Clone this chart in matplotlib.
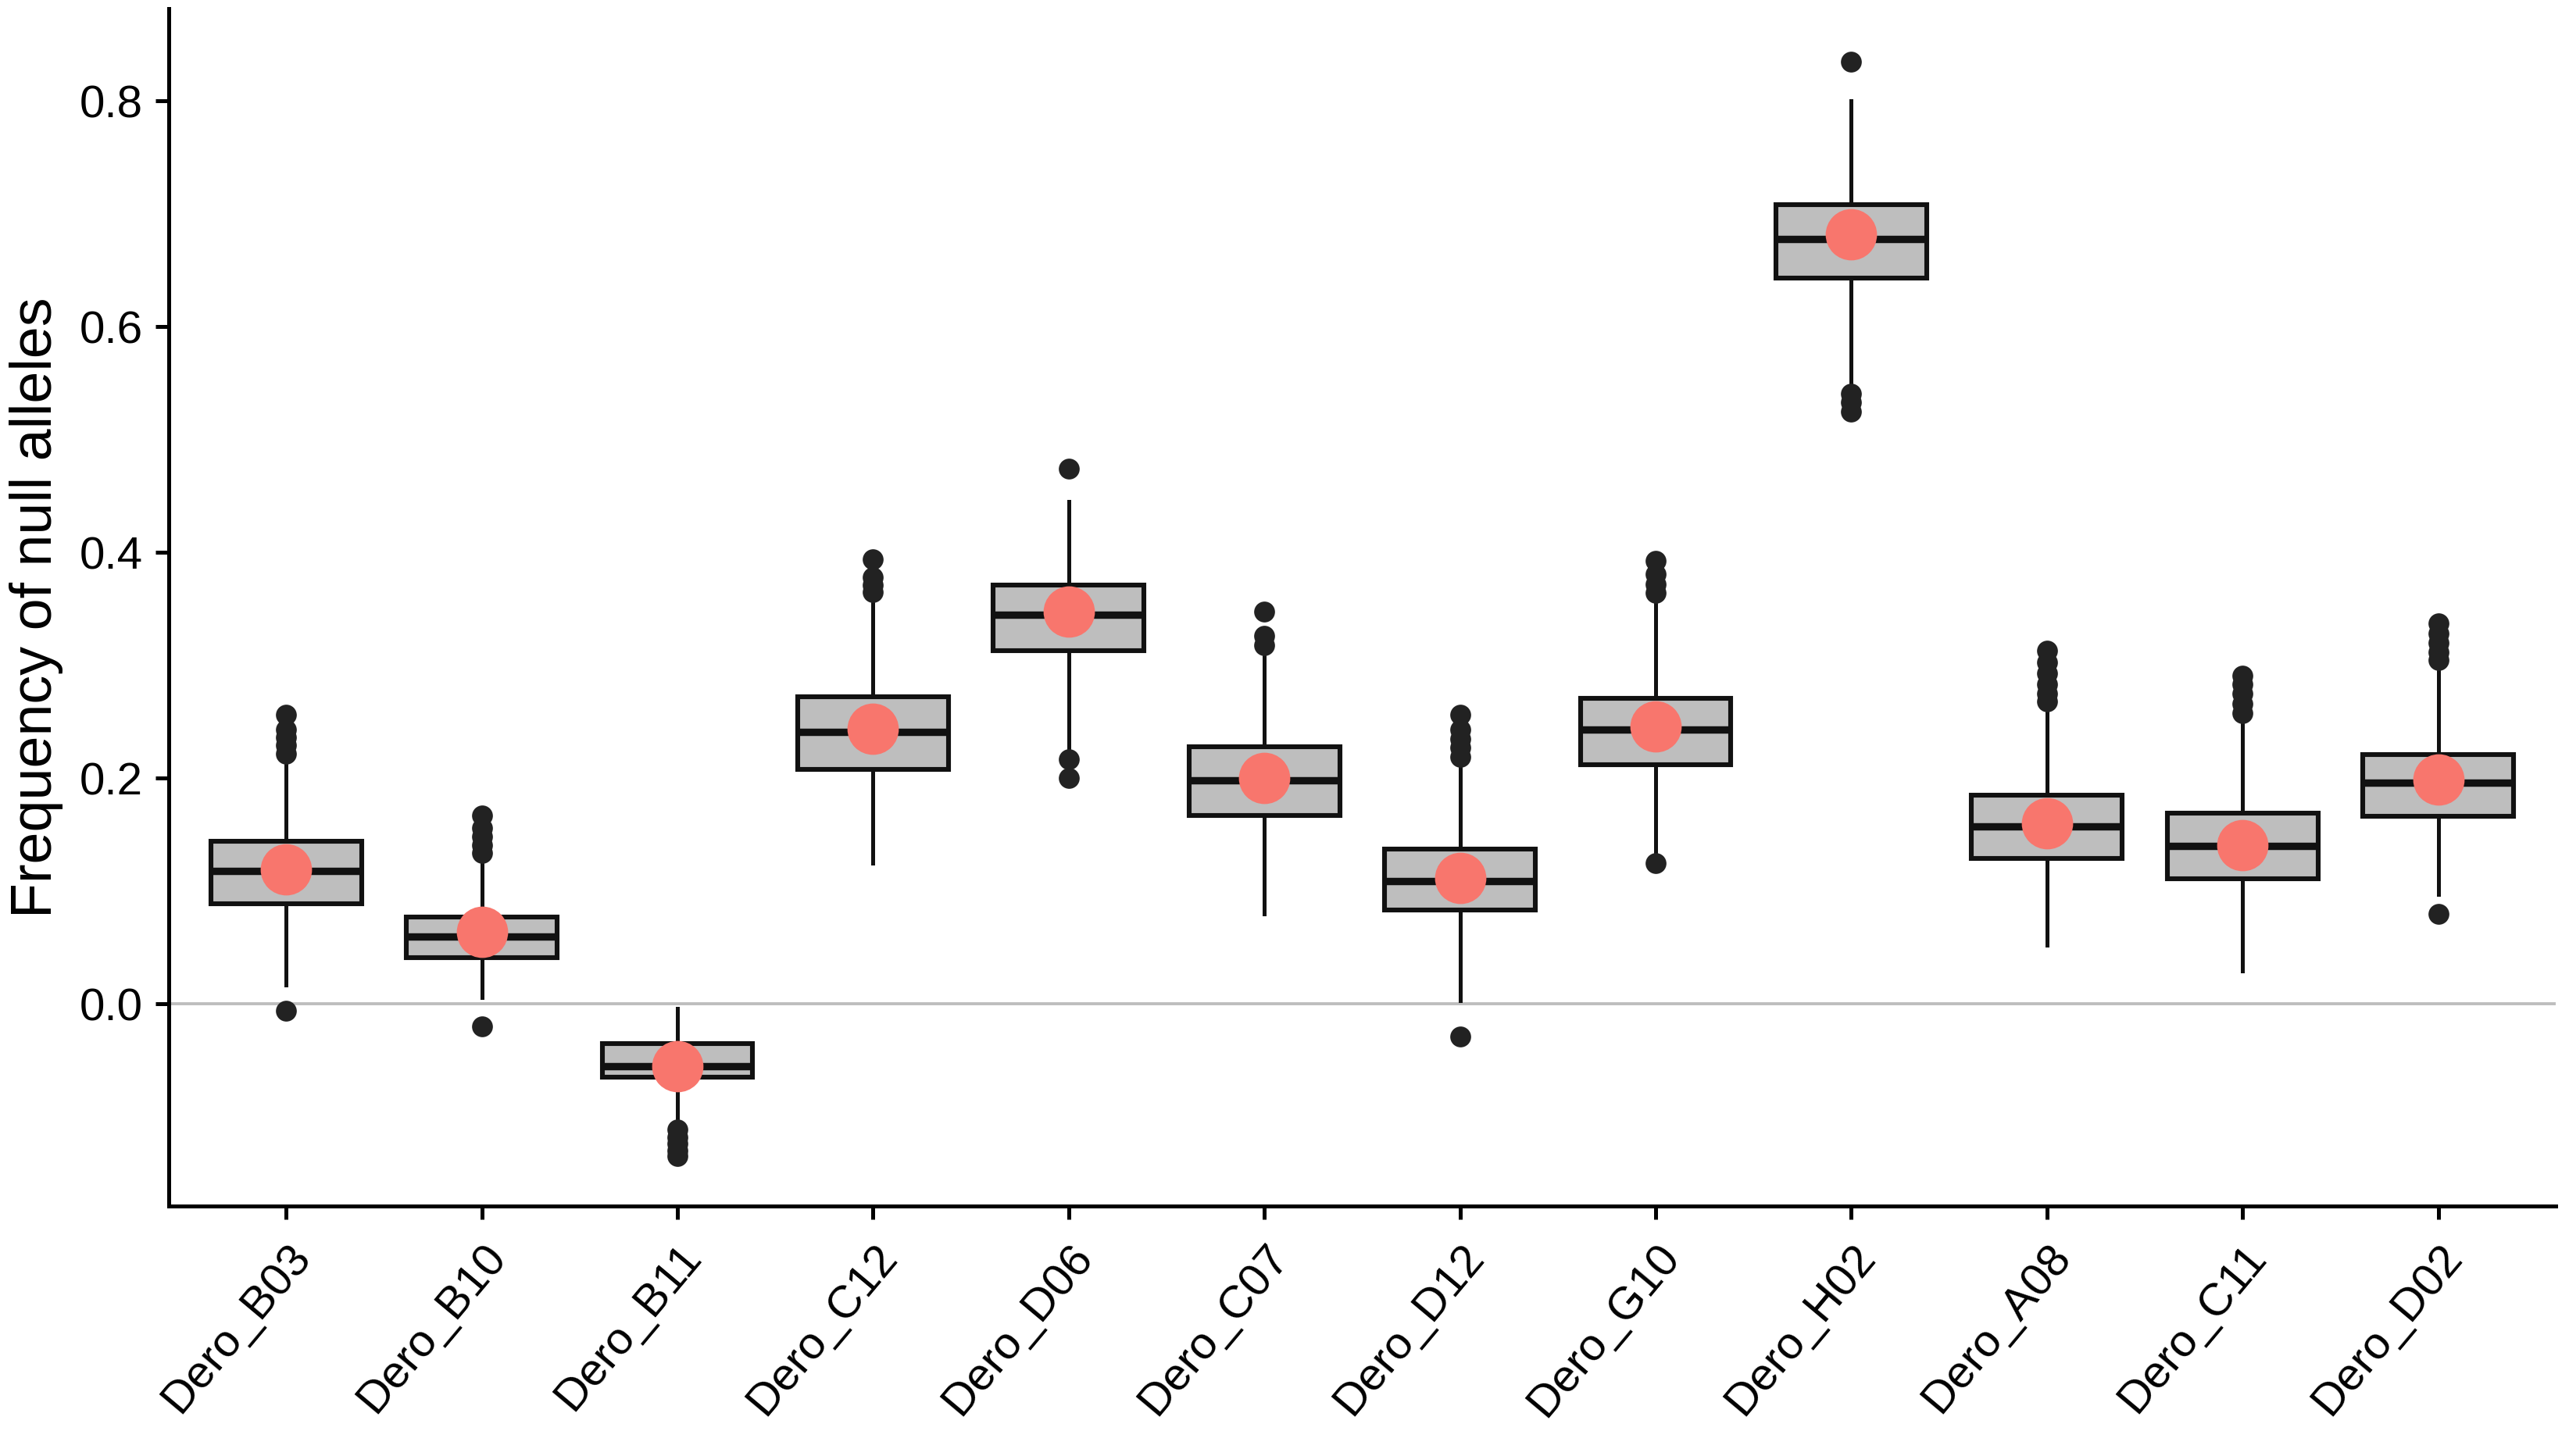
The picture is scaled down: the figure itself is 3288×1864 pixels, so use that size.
import numpy as np
import matplotlib.pyplot as plt
from matplotlib.transforms import ScaledTranslation

# %% Data (null allele frequency per locus)
loci = ['Dero_B03', 'Dero_B10', 'Dero_B11', 'Dero_C12', 'Dero_D06', 'Dero_C07',
        'Dero_D12', 'Dero_G10', 'Dero_H02', 'Dero_A08', 'Dero_C11', 'Dero_D02']

q1 = [0.089, 0.041, -0.065, 0.208, 0.313, 0.167, 0.083, 0.212, 0.643, 0.129, 0.111, 0.166]
median = [0.118, 0.060, -0.055, 0.241, 0.345, 0.198, 0.109, 0.243, 0.678, 0.157, 0.140, 0.196]
q3 = [0.144, 0.077, -0.035, 0.272, 0.371, 0.228, 0.137, 0.271, 0.708, 0.185, 0.169, 0.221]
whisk_lo = [0.017, 0.006, -0.106, 0.125, 0.227, 0.080, 0.003, 0.134, 0.545, 0.052, 0.029, 0.097]
whisk_hi = [0.218, 0.132, -0.004, 0.362, 0.445, 0.311, 0.214, 0.355, 0.800, 0.262, 0.253, 0.303]
means = [0.119, 0.064, -0.055, 0.244, 0.348, 0.200, 0.112, 0.246, 0.682, 0.160, 0.141, 0.199]

outliers = [
    [0.256, 0.243, 0.236, 0.229, 0.222, -0.006],
    [0.167, 0.156, 0.148, 0.141, 0.134, -0.020],
    [-0.111, -0.118, -0.124, -0.130, -0.135],
    [0.394, 0.378, 0.371, 0.365],
    [0.474, 0.217, 0.200],
    [0.348, 0.326, 0.318],
    [0.256, 0.243, 0.235, 0.227, 0.219, -0.029],
    [0.393, 0.381, 0.372, 0.364, 0.125],
    [0.835, 0.541, 0.533, 0.525],
    [0.313, 0.303, 0.293, 0.283, 0.275, 0.268],
    [0.291, 0.283, 0.275, 0.266, 0.258],
    [0.337, 0.328, 0.320, 0.312, 0.305, 0.080],
]

# %% Build box statistics
stats = []
for i in range(len(loci)):
    stats.append({'med': median[i], 'q1': q1[i], 'q3': q3[i],
                  'whislo': whisk_lo[i], 'whishi': whisk_hi[i],
                  'fliers': outliers[i], 'mean': means[i], 'label': loci[i]})

plt.rcParams['font.family'] = ['Liberation Sans', 'DejaVu Sans']

fig = plt.figure(figsize=(16.44, 9.32), dpi=200)
ax = fig.add_axes([0.0657, 0.1717, 0.9291, 0.8224])

pos = np.arange(1, len(loci) + 1)
ax.axhline(0, color='#bebebe', lw=1.4, zorder=0)

ax.bxp(stats, positions=pos, widths=0.77, patch_artist=True, showmeans=False,
       showcaps=False,
       boxprops=dict(facecolor='#bebebe', edgecolor='#111111', linewidth=2.2),
       medianprops=dict(color='#111111', linewidth=3.4),
       whiskerprops=dict(color='#111111', linewidth=1.8),
       flierprops=dict(marker='o', markerfacecolor='#222222', markeredgecolor='#222222',
                       markersize=8.6))

ax.scatter(pos, means, s=560, color='#f8766d', zorder=5, linewidths=0)

ax.set_xlim(0.4, len(loci) + 0.6)
ax.set_ylim(-0.179, 0.882)
ax.set_yticks([0.0, 0.2, 0.4, 0.6, 0.8])
ax.set_yticklabels(['0.0', '0.2', '0.4', '0.6', '0.8'])
ax.set_xticks(pos)
ax.set_xticklabels(loci, rotation=50, ha='right', va='top', rotation_mode='anchor')
shift = ScaledTranslation(-4 / 72, 0, fig.dpi_scale_trans)
for lab in ax.get_xticklabels():
    lab.set_transform(lab.get_transform() + shift)

for s in ['top', 'right']:
    ax.spines[s].set_visible(False)
for s in ['left', 'bottom']:
    ax.spines[s].set_linewidth(1.8)
    ax.spines[s].set_color('black')

ax.tick_params(axis='both', length=6, width=1.8, color='black', labelsize=21,
               labelcolor='black')
ax.tick_params(axis='y', pad=6)
ax.tick_params(axis='x', pad=8)
ax.set_ylabel('Frequency of null alleles', fontsize=26.5, va='center')
ax.yaxis.set_label_coords(-0.0556, 0.5)

fig.savefig('out.png', dpi=200)
